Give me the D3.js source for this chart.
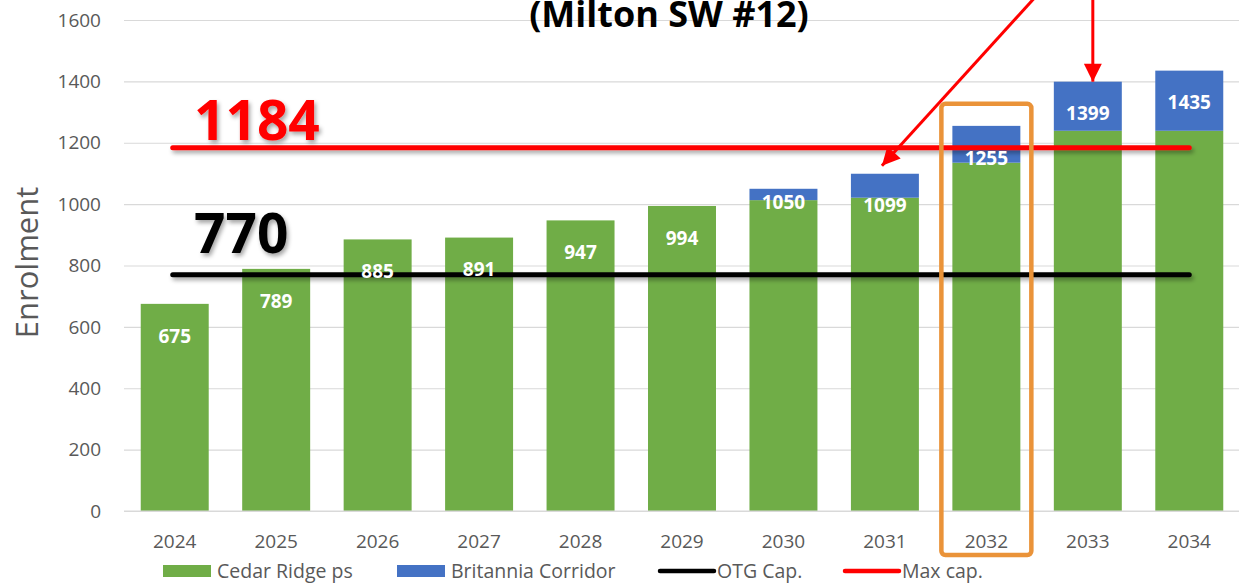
<!DOCTYPE html>
<html>
<head>
<meta charset="utf-8">
<script src="https://cdn.jsdelivr.net/npm/d3@7"></script>
<style>
  html, body { margin: 0; padding: 0; background: #fff; }
  svg { display: block; font-family: "Open Sans", sans-serif; }
  .grid line { stroke: #d9d9d9; stroke-width: 1.2; }
  .grid path { display: none; }
  .tick-label { fill: #595959; font-size: 19px; }
  .bar-label { fill: #fff; font-size: 19px; font-weight: 700; text-anchor: middle; }
  .legend-text { fill: #595959; font-size: 19.5px; }
</style>
</head>
<body>
<div id="chart"></div>
<script>
// Data
const years = ["2024", "2025", "2026", "2027", "2028", "2029", "2030", "2031", "2032", "2033", "2034"];
const cedarRidge = [675, 789, 885, 891, 947, 994, 1013, 1021, 1135, 1239, 1239];
const britannia = [0, 0, 0, 0, 0, 0, 37, 78, 120, 160, 196];
const yTicks = [0, 200, 400, 600, 800, 1000, 1200, 1400, 1600];
const otgCap = 770;
const maxCap = 1184;
const seriesNames = ["Cedar Ridge ps", "Britannia Corridor", "OTG Cap.", "Max cap."];
const titleText = "(Milton SW #12)";
const highlightYear = "2032";

const width = 1239;
const height = 583;
const green = "#70ad47";
const blue = "#4472c4";
const red = "#ff0000";
const orange = "#ea9339";

const svg = d3.select("#chart")
    .append("svg")
    .attr("width", width)
    .attr("height", height);

const defs = svg.append("defs");

// user space region so flat lines keep their shadow
const shadow = defs.append("filter")
    .attr("id", "shadow")
    .attr("filterUnits", "userSpaceOnUse")
    .attr("x", 0).attr("y", 0)
    .attr("width", width).attr("height", height);
shadow.append("feDropShadow")
    .attr("dx", 2).attr("dy", 3)
    .attr("stdDeviation", 2)
    .attr("flood-color", "#000")
    .attr("flood-opacity", 0.35);

defs.append("marker")
    .attr("id", "arrow")
    .attr("viewBox", "0 0 10 10")
    .attr("refX", 10).attr("refY", 5)
    .attr("markerUnits", "userSpaceOnUse")
    .attr("markerWidth", 22).attr("markerHeight", 18)
    .attr("orient", "auto")
    .append("path")
    .attr("d", "M0,0 L10,5 L0,10 Z")
    .attr("fill", red);

const data = years.map((year, i) => ({
    year,
    cedar: cedarRidge[i],
    brit: britannia[i],
    total: cedarRidge[i] + britannia[i]
}));

const xScale = d3.scaleBand()
    .domain(years)
    .range([124, 1240])
    .paddingInner(0.33)
    .paddingOuter(0.165);

const yScale = d3.scaleLinear()
    .domain([0, 1600])
    .range([511, 20]);

const xc = year => xScale(year) + xScale.bandwidth() / 2;

// grid
svg.append("g")
    .attr("class", "grid")
    .attr("transform", "translate(124,0)")
    .call(d3.axisLeft(yScale).tickValues(yTicks).tickSize(-1116).tickFormat(""));

// y tick labels
svg.append("g")
    .selectAll("text")
    .data(yTicks)
    .join("text")
    .attr("class", "tick-label")
    .attr("x", 101)
    .attr("y", d => yScale(d))
    .attr("dy", "0.35em")
    .attr("text-anchor", "end")
    .text(d => d);

// x tick labels
svg.append("g")
    .selectAll("text")
    .data(years)
    .join("text")
    .attr("class", "tick-label")
    .attr("x", d => xc(d))
    .attr("y", 541)
    .attr("dy", "0.35em")
    .attr("text-anchor", "middle")
    .text(d => d);

// y axis title
svg.append("text")
    .attr("transform", `translate(27, ${yScale(810)}) rotate(-90)`)
    .attr("dy", "0.35em")
    .attr("text-anchor", "middle")
    .attr("fill", "#595959")
    .attr("font-size", 31)
    .text("Enrolment");

// bars
svg.append("g")
    .selectAll("rect")
    .data(data)
    .join("rect")
    .attr("x", d => xScale(d.year))
    .attr("width", xScale.bandwidth())
    .attr("y", d => yScale(d.cedar))
    .attr("height", d => yScale(0) - yScale(d.cedar))
    .attr("fill", green);

svg.append("g")
    .selectAll("rect")
    .data(data.filter(d => d.brit > 0))
    .join("rect")
    .attr("x", d => xScale(d.year))
    .attr("width", xScale.bandwidth())
    .attr("y", d => yScale(d.total))
    .attr("height", d => yScale(d.cedar) - yScale(d.total))
    .attr("fill", blue);

// baseline
svg.append("line")
    .attr("x1", 124).attr("x2", 1240)
    .attr("y1", yScale(0)).attr("y2", yScale(0))
    .attr("stroke", "#d9d9d9")
    .attr("stroke-width", 1.2);

// capacity lines
const capLine = (value, color) => svg.append("line")
    .attr("x1", xc(years[0]) - 2)
    .attr("x2", xc(years[years.length - 1]))
    .attr("y1", yScale(value))
    .attr("y2", yScale(value))
    .attr("stroke", color)
    .attr("stroke-width", 5)
    .attr("stroke-linecap", "round")
    .attr("filter", "url(#shadow)");

capLine(otgCap, "#000");
capLine(maxCap, red);

// bar labels
svg.append("g")
    .selectAll("text")
    .data(data)
    .join("text")
    .attr("class", "bar-label")
    .attr("x", d => xc(d.year))
    .attr("y", d => yScale(d.total) + (d.year === "2030" ? 14 : 32))
    .attr("dy", "0.35em")
    .text(d => d.total);

// big capacity labels
svg.append("text")
    .attr("x", 194)
    .attr("y", yScale(maxCap) - 8)
    .attr("fill", red)
    .attr("font-size", 55)
    .attr("font-weight", 700)
    .attr("filter", "url(#shadow)")
    .text(maxCap);

svg.append("text")
    .attr("x", 194)
    .attr("y", yScale(otgCap) - 22)
    .attr("fill", "#000")
    .attr("font-size", 55)
    .attr("font-weight", 700)
    .attr("filter", "url(#shadow)")
    .text(otgCap);

// highlight box
svg.append("rect")
    .attr("x", xScale(highlightYear) - 11)
    .attr("y", yScale(1255) - 22)
    .attr("width", xScale.bandwidth() + 22)
    .attr("height", 555 - (yScale(1255) - 22))
    .attr("rx", 4)
    .attr("fill", "none")
    .attr("stroke", orange)
    .attr("stroke-width", 4.5);

// arrows
const tip1 = [xc("2031") - 3, yScale(1099) - 8];
svg.append("line")
    .attr("x1", tip1[0] + 170).attr("y1", tip1[1] - 187)
    .attr("x2", tip1[0]).attr("y2", tip1[1])
    .attr("stroke", red)
    .attr("stroke-width", 3)
    .attr("marker-end", "url(#arrow)");

const tip2 = [xc("2033") + 5, yScale(1399)];
svg.append("line")
    .attr("x1", tip2[0]).attr("y1", -10)
    .attr("x2", tip2[0]).attr("y2", tip2[1])
    .attr("stroke", red)
    .attr("stroke-width", 3)
    .attr("marker-end", "url(#arrow)");

// title, right at the top edge
svg.append("text")
    .attr("x", 669)
    .attr("y", 27)
    .attr("text-anchor", "middle")
    .attr("font-size", 36)
    .attr("font-weight", 700)
    .attr("fill", "#000")
    .text(titleText);

// legend
const legend = svg.append("g").attr("transform", "translate(0,571)");
const legendItems = [
    { name: seriesNames[0], x: 163, color: green, type: "rect" },
    { name: seriesNames[1], x: 397, color: blue, type: "rect" },
    { name: seriesNames[2], x: 660, color: "#000", type: "line" },
    { name: seriesNames[3], x: 845, color: red, type: "line" }
];

legendItems.forEach(item => {
    if (item.type === "rect") {
        legend.append("rect")
            .attr("x", item.x).attr("y", -6)
            .attr("width", 48).attr("height", 12)
            .attr("fill", item.color);
    } else {
        legend.append("line")
            .attr("x1", item.x).attr("x2", item.x + 54)
            .attr("y1", 0).attr("y2", 0)
            .attr("stroke", item.color)
            .attr("stroke-width", 4.5)
            .attr("stroke-linecap", "round");
    }
    legend.append("text")
        .attr("class", "legend-text")
        .attr("x", item.x + (item.type === "rect" ? 54 : 57))
        .attr("dy", "0.35em")
        .text(item.name);
});
</script>
</body>
</html>
